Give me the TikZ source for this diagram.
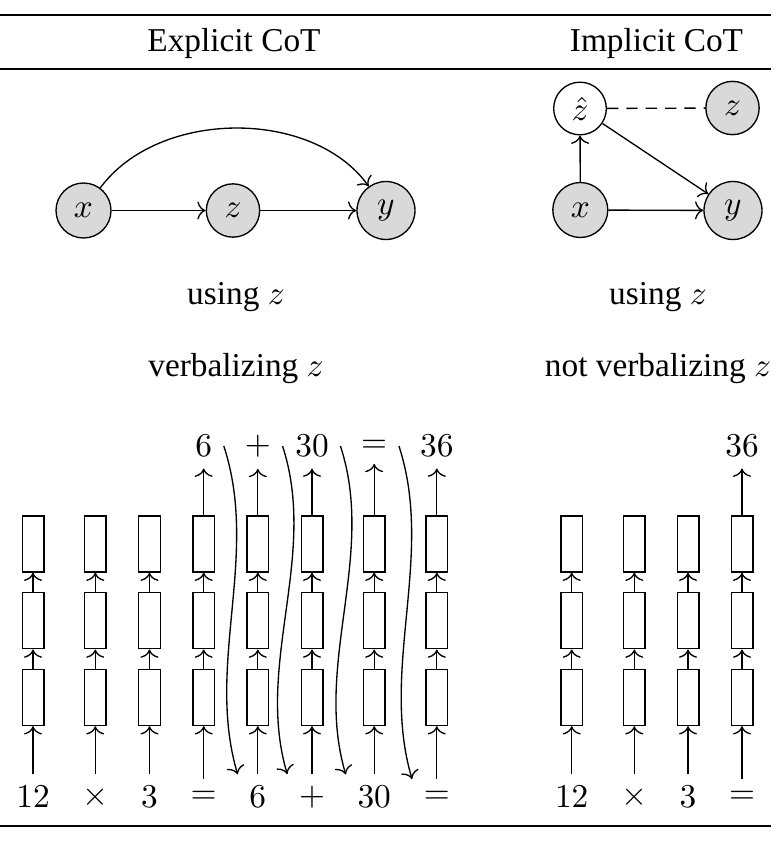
\documentclass[tikz,border=0pt]{standalone}
\usepackage[no-math]{fontspec}
\newfontfamily\tms{Liberation Serif}
\usetikzlibrary{arrows.meta}
\begin{document}
\begin{tikzpicture}[x=0.3pt,y=-0.3pt,
  >={To[length=2.5pt,width=5.4pt]},
  var/.style={circle,draw,fill=gray!30,inner sep=0pt,minimum size=16.5pt},
  lat/.style={circle,draw,fill=white,inner sep=0pt,minimum size=15.8pt},
  cell/.style={draw,rectangle,minimum width=6.5pt,minimum height=16.8pt,inner sep=0pt},
  tok/.style={inner sep=3.333pt},
  lbl/.style={font=\tms,anchor=base,inner sep=0pt},
  rulethick/.style={line width=0.8pt},
  rulethin/.style={line width=0.5pt},
  dashline/.style={dash pattern=on 3.4pt off 2.4pt}]
\useasboundingbox (0,0) rectangle (784,842);
% rules
\draw[rulethick] (0,15) -- (770.7,15);
\draw[rulethin] (0,69) -- (770.7,69);
\draw[rulethick] (0,826) -- (770.7,826);
% headers
\node[lbl] (h1) at (234,51.5) {Explicit CoT};
\node[lbl] (h2) at (656.5,51.5) {Implicit CoT};
% left graph
\node[var] (x) at (83.5,210.5) {$x$};
\node[var,minimum size=16pt] (z) at (233,210.5) {$z$};
\node[var,minimum size=17.4pt] (y) at (386,210.5) {$y$};
\draw[->] (x) -- (z);
\draw[->] (z) -- (y);
\draw[->] (x) .. controls (159,108.5) and (313,108.5) .. (y);
% right graph
\node[lat] (zh) at (580,108.5) {$\hat{z}$};
\node[var,minimum size=16pt] (zr) at (732.5,108) {$z$};
\node[var] (xr) at (580.3,210) {$x$};
\node[var,minimum size=17.4pt] (yr) at (733,210.5) {$y$};
\draw[dashline] (zh) -- (zr);
\draw[->] (xr) -- (zh);
\draw[->] (zh) -- (yr);
\draw[->] (xr) -- (yr);
% labels
\node[lbl] (u1) at (236,304) {using $z$};
\node[lbl] (u2) at (658,304) {using $z$};
\node[lbl] (v1) at (236,376) {verbalizing $z$};
\node[lbl] (v2) at (658,376) {not verbalizing $z$};
% stacks
\foreach \n/\cx/\t in {1/33/12, 2/95.3/\times, 3/149.5/3, 4/203.7/=, 5/257.8/6, 6/312/+, 7/374.2/30, 8/436.8/=,
                       9/571.7/12, 10/634.3/\times, 11/688/3, 12/742/=}{
  \node[tok] (in\n) at (\cx,797) {$\t$};
  \node[cell] (c\n-1) at (\cx,697.5) {};
  \node[cell] (c\n-2) at (\cx,620.8) {};
  \node[cell] (c\n-3) at (\cx,543.9) {};
  \draw[->] (in\n.north) -- (c\n-1.south);
  \draw[->] (c\n-1.north) -- (c\n-2.south);
  \draw[->] (c\n-2.north) -- (c\n-3.south);
}
\foreach \n/\t in {4/6, 5/+, 6/30, 7/=, 8/36, 12/36}{
  \node[tok] (out\n) at (c\n-3.center |- 0,446) {$\t$};
  \draw[->] (c\n-3.north) -- (out\n.south);
}
% curved arrows
\draw[->] (out4.east) .. controls +(36,110) and +(-32.5,-110) .. (in5.north west);
\draw[->] (out5.east) .. controls +(36,110) and +(-32.5,-110) .. (in6.north west);
\draw[->] (out6.east) .. controls +(36,110) and +(-32.5,-110) .. (in7.north west);
\draw[->] (out7.east) .. controls +(36,110) and +(-32.5,-110) .. (in8.north west);
\end{tikzpicture}
\end{document}
